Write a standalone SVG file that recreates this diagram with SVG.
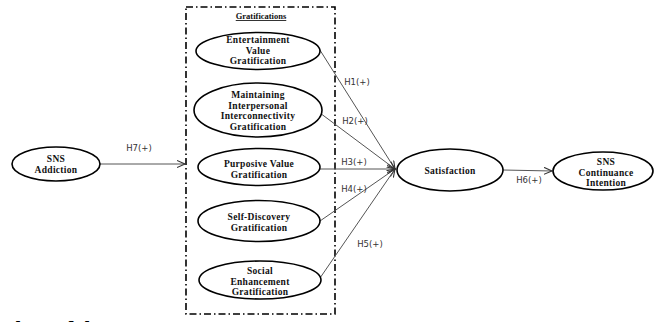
<svg xmlns="http://www.w3.org/2000/svg" width="654" height="322" viewBox="0 0 654 322">
<style>
.node ellipse{fill:#fff;stroke:#000;stroke-width:1.6}
.node text{font-family:"Liberation Serif","Times New Roman",serif;font-weight:bold;font-size:9.5px;letter-spacing:0.3px;text-anchor:middle;fill:#111}
.edge{stroke:#555;stroke-width:1;fill:none}
.lbl{font-family:"DejaVu Sans",sans-serif;font-size:8.5px;fill:#333}
</style>
<defs>
<marker id="arr" markerWidth="10" markerHeight="10" refX="8" refY="4" orient="auto" markerUnits="userSpaceOnUse">
<path d="M0,0.5 L8,4 L0,7.5" fill="none" stroke="#333" stroke-width="1.1"/>
</marker>
</defs>
<rect width="654" height="322" fill="#fff"/>
<g id="gratifications-box">
<rect x="186" y="7" width="149" height="307" fill="none" stroke="#000" stroke-width="1.6" stroke-dasharray="7,3,1.5,3"/>
<text x="261" y="19" font-family="Liberation Serif, serif" font-weight="bold" font-size="8.5" text-anchor="middle" text-decoration="underline" fill="#111">Gratifications</text>
</g>
<g id="connectors">
<line class="edge" x1="100" y1="164" x2="185" y2="164" marker-end="url(#arr)"/>
<line class="edge" x1="318" y1="47" x2="395" y2="169" marker-end="url(#arr)"/>
<line class="edge" x1="320" y1="113" x2="395" y2="169" marker-end="url(#arr)"/>
<line class="edge" x1="320" y1="169" x2="395" y2="169" marker-end="url(#arr)"/>
<line class="edge" x1="320" y1="221" x2="395" y2="169" marker-end="url(#arr)"/>
<line class="edge" x1="320" y1="278" x2="395" y2="169" marker-end="url(#arr)"/>
<line class="edge" x1="503" y1="170" x2="552" y2="171" marker-end="url(#arr)"/>
<text class="lbl" x="139" y="151" text-anchor="middle">H7(+)</text>
<text class="lbl" x="357" y="85" text-anchor="middle">H1(+)</text>
<text class="lbl" x="355" y="124" text-anchor="middle">H2(+)</text>
<text class="lbl" x="354" y="165" text-anchor="middle">H3(+)</text>
<text class="lbl" x="354" y="192" text-anchor="middle">H4(+)</text>
<text class="lbl" x="370" y="247" text-anchor="middle">H5(+)</text>
<text class="lbl" x="529" y="183" text-anchor="middle">H6(+)</text>
</g>
<g id="sns-addiction" class="node">
<ellipse cx="56" cy="164" rx="44" ry="17"/>
<text x="56" y="161.5">SNS</text>
<text x="56" y="172.5">Addiction</text>
</g>
<g id="entertainment" class="node">
<ellipse cx="258" cy="51" rx="62" ry="18.5"/>
<text x="258" y="42.5">Entertainment</text>
<text x="258" y="53.5">Value</text>
<text x="258" y="64">Gratification</text>
</g>
<g id="maintaining" class="node">
<ellipse cx="258" cy="110" rx="64" ry="27"/>
<text x="258" y="97.5">Maintaining</text>
<text x="258" y="108.5">Interpersonal</text>
<text x="258" y="119">Interconnectivity</text>
<text x="258" y="130">Gratification</text>
</g>
<g id="purposive" class="node">
<ellipse cx="259" cy="167" rx="61" ry="18.5"/>
<text x="259" y="166.5">Purposive Value</text>
<text x="259" y="177.5">Gratification</text>
</g>
<g id="self-discovery" class="node">
<ellipse cx="259" cy="221" rx="61" ry="20.5"/>
<text x="259" y="220">Self-Discovery</text>
<text x="259" y="230.7">Gratification</text>
</g>
<g id="social-enhancement" class="node">
<ellipse cx="260" cy="280" rx="61" ry="19"/>
<text x="260" y="273.5">Social</text>
<text x="260" y="284.5">Enhancement</text>
<text x="260" y="295">Gratification</text>
</g>
<g id="satisfaction" class="node">
<ellipse cx="450" cy="170" rx="53" ry="21"/>
<text x="450" y="174">Satisfaction</text>
</g>
<g id="sns-continuance" class="node">
<ellipse cx="603" cy="171" rx="50" ry="19"/>
<text x="606" y="165">SNS</text>
<text x="606" y="175.5">Continuance</text>
<text x="606" y="186">Intention</text>
</g>
<text x="14" y="336" font-family="Liberation Serif, serif" font-weight="bold" font-style="italic" font-size="22" fill="#000">h Model</text>
</svg>
